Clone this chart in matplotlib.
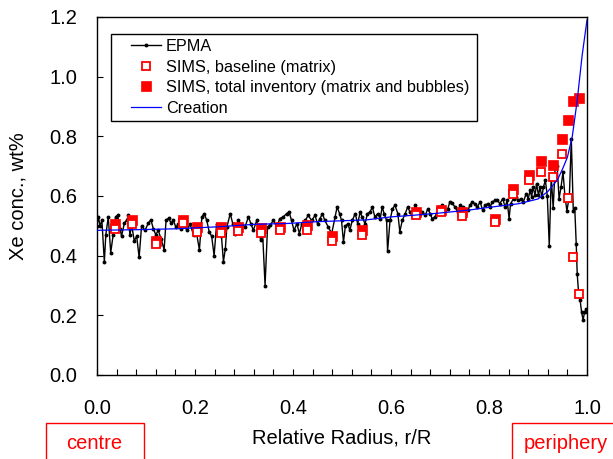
import matplotlib
matplotlib.use("Agg")
import matplotlib.pyplot as plt
from matplotlib.patches import Rectangle

plt.rcParams['font.family'] = ['Liberation Sans', 'DejaVu Sans']

# ---------------- data ----------------
epma_x = [0.000, 0.003, 0.006, 0.010, 0.015, 0.018, 0.023, 0.028, 0.033, 0.038, 0.042, 0.047, 0.050,
          0.056, 0.061, 0.064, 0.067, 0.071, 0.076, 0.081, 0.086, 0.091, 0.098, 0.105, 0.110, 0.115,
          0.120, 0.125, 0.131, 0.137, 0.141, 0.146, 0.151, 0.156, 0.161, 0.166, 0.171, 0.176, 0.183,
          0.190, 0.197, 0.201, 0.209, 0.214, 0.219, 0.224, 0.229, 0.234, 0.239, 0.244, 0.249, 0.254,
          0.258, 0.262, 0.265, 0.272, 0.277, 0.282, 0.288, 0.295, 0.302, 0.309, 0.314, 0.319, 0.326,
          0.334, 0.338, 0.343, 0.348, 0.353, 0.360, 0.367, 0.373, 0.380, 0.387, 0.392, 0.397, 0.402,
          0.408, 0.413, 0.418, 0.425, 0.431, 0.438, 0.445, 0.450, 0.455, 0.460, 0.465, 0.472, 0.479,
          0.486, 0.490, 0.495, 0.499, 0.503, 0.507, 0.512, 0.516, 0.521, 0.527, 0.532, 0.537, 0.541,
          0.547, 0.552, 0.557, 0.562, 0.567, 0.573, 0.578, 0.582, 0.586, 0.591, 0.593, 0.598, 0.603,
          0.608, 0.614, 0.618, 0.623, 0.629, 0.634, 0.639, 0.644, 0.649, 0.655, 0.659, 0.664, 0.670,
          0.675, 0.680, 0.684, 0.690, 0.695, 0.700, 0.705, 0.710, 0.716, 0.720, 0.725, 0.731, 0.736,
          0.741, 0.746, 0.751, 0.757, 0.761, 0.766, 0.771, 0.776, 0.782, 0.787, 0.792, 0.797, 0.802,
          0.807, 0.812, 0.817, 0.822, 0.828, 0.833, 0.837, 0.841, 0.844, 0.850, 0.855, 0.860, 0.865,
          0.870, 0.876, 0.880, 0.884, 0.887, 0.890, 0.894, 0.897, 0.901, 0.904, 0.908, 0.911, 0.915,
          0.919, 0.923, 0.927, 0.931, 0.935, 0.939, 0.943, 0.947, 0.951, 0.955, 0.959, 0.964, 0.968,
          0.972, 0.975, 0.978, 0.980, 0.983, 0.986, 0.989, 0.992, 0.995, 0.998]
epma_y = [0.500, 0.530, 0.500, 0.518, 0.380, 0.470, 0.530, 0.410, 0.470, 0.530, 0.535, 0.490, 0.465,
          0.510, 0.520, 0.535, 0.470, 0.500, 0.450, 0.465, 0.394, 0.500, 0.485, 0.510, 0.520, 0.490,
          0.470, 0.485, 0.455, 0.420, 0.520, 0.525, 0.510, 0.518, 0.495, 0.505, 0.490, 0.515, 0.485,
          0.505, 0.470, 0.495, 0.420, 0.530, 0.541, 0.518, 0.480, 0.465, 0.400, 0.505, 0.485, 0.465,
          0.380, 0.424, 0.496, 0.541, 0.507, 0.474, 0.518, 0.502, 0.496, 0.530, 0.507, 0.485, 0.518,
          0.452, 0.474, 0.300, 0.496, 0.502, 0.518, 0.496, 0.524, 0.530, 0.541, 0.547, 0.518, 0.485,
          0.507, 0.474, 0.507, 0.518, 0.535, 0.518, 0.535, 0.507, 0.524, 0.541, 0.518, 0.496, 0.474,
          0.530, 0.563, 0.541, 0.518, 0.446, 0.500, 0.507, 0.485, 0.518, 0.541, 0.507, 0.546, 0.530,
          0.507, 0.541, 0.546, 0.563, 0.530, 0.541, 0.524, 0.563, 0.541, 0.518, 0.415, 0.518, 0.557,
          0.569, 0.541, 0.480, 0.518, 0.541, 0.563, 0.546, 0.530, 0.569, 0.552, 0.541, 0.546, 0.535,
          0.557, 0.541, 0.524, 0.530, 0.552, 0.563, 0.569, 0.552, 0.557, 0.580, 0.575, 0.563, 0.546,
          0.569, 0.563, 0.541, 0.552, 0.569, 0.580, 0.574, 0.563, 0.580, 0.552, 0.569, 0.574, 0.563,
          0.580, 0.585, 0.588, 0.574, 0.591, 0.563, 0.585, 0.524, 0.574, 0.591, 0.597, 0.585, 0.591,
          0.580, 0.608, 0.591, 0.619, 0.597, 0.630, 0.602, 0.641, 0.602, 0.630, 0.597, 0.630, 0.652,
          0.600, 0.432, 0.663, 0.560, 0.697, 0.702, 0.591, 0.630, 0.680, 0.600, 0.550, 0.600, 0.790,
          0.550, 0.560, 0.440, 0.340, 0.270, 0.250, 0.210, 0.185, 0.210, 0.220]

sims_x = [0.037, 0.072, 0.120, 0.176, 0.205, 0.254, 0.287, 0.334, 0.374, 0.429, 0.480, 0.540,
          0.651, 0.702, 0.745, 0.812, 0.848, 0.882, 0.907, 0.930, 0.948, 0.962, 0.972, 0.983]
sims_total = [0.505, 0.518, 0.450, 0.518, 0.496, 0.496, 0.496, 0.494, 0.496, 0.502, 0.465, 0.487,
              0.548, 0.554, 0.546, 0.524, 0.624, 0.672, 0.717, 0.704, 0.790, 0.855, 0.917, 0.930]
sims_base = [0.490, 0.507, 0.440, 0.508, 0.480, 0.477, 0.483, 0.476, 0.485, 0.487, 0.448, 0.470,
             0.537, 0.545, 0.533, 0.513, 0.608, 0.652, 0.680, 0.663, 0.740, 0.594, 0.394, 0.271]

creation_x = [0.0, 0.08, 0.16, 0.25, 0.32, 0.39, 0.45, 0.50, 0.55, 0.60, 0.65, 0.70, 0.76, 0.80,
              0.86, 0.90, 0.92, 0.94, 0.95, 0.96, 0.97, 0.98, 0.99, 1.0]
creation_y = [0.485, 0.487, 0.490, 0.497, 0.505, 0.508, 0.514, 0.517, 0.520, 0.530, 0.536, 0.543,
              0.553, 0.562, 0.574, 0.590, 0.615, 0.655, 0.690, 0.730, 0.800, 0.920, 1.070, 1.190]

# ---------------- figure ----------------
W, H = 613, 459
fig = plt.figure(figsize=(W / 100, H / 100), dpi=100)
L, R, T, B = 97, 587, 17, 375
ax = fig.add_axes([L / W, 1 - B / H, (R - L) / W, (B - T) / H])

ax.plot(epma_x, epma_y, color='black', lw=1.0, marker='o', ms=1.8, mec='black',
        mfc='black', label='EPMA', zorder=2)
ax.plot(sims_x, sims_total, ls='none', marker='s', ms=6.8, mfc='#ff0000', mec='#ff0000',
        mew=0.5, label='SIMS, total inventory (matrix and bubbles)', zorder=3)
ax.plot(sims_x, sims_base, ls='none', marker='s', ms=5.3, mfc='white', mec='#ff0000',
        mew=1.3, label='SIMS, baseline (matrix)', zorder=4)
ax.plot(creation_x, creation_y, color='#0000ff', lw=0.9, label='Creation', zorder=5)

ax.set_xlim(0, 1.0)
ax.set_ylim(0, 1.2)
ax.set_xticks([0.0, 0.2, 0.4, 0.6, 0.8, 1.0])
ax.set_xticks([i * 0.04 for i in range(26)], minor=True)
ax.set_yticks([0.0, 0.2, 0.4, 0.6, 0.8, 1.0, 1.2])
ax.set_xticklabels(['0.0', '0.2', '0.4', '0.6', '0.8', '1.0'])
ax.set_yticklabels(['0.0', '0.2', '0.4', '0.6', '0.8', '1.0', '1.2'])
ax.tick_params(axis='x', which='major', direction='in', length=4, width=0.8, pad=17,
               labelsize=14.5, top=False)
ax.tick_params(axis='x', which='minor', direction='in', length=4, width=0.8, top=False)
ax.tick_params(axis='y', which='major', direction='in', length=4, width=0.8, pad=14,
               labelsize=14.5, right=False)
for s in ax.spines.values():
    s.set_linewidth(1.0)

ax.set_xlabel('Relative Radius, r/R', fontsize=14.5)
ax.xaxis.set_label_coords(0.499, (B - 428) / (B - T))
ax.set_ylabel('Xe conc., wt%', fontsize=14.5)
ax.yaxis.set_label_coords((28 - L) / (R - L), 0.5)

# legend (frame drawn separately)
h, lab = ax.get_legend_handles_labels()
order = [0, 2, 1, 3]
leg = ax.legend([h[i] for i in order], [lab[i] for i in order], loc='upper left',
                bbox_to_anchor=(131 / W, 1 - 39 / H), bbox_transform=fig.transFigure,
                frameon=False, fontsize=11.7, borderpad=0, borderaxespad=0,
                handlelength=1.85, handletextpad=0.3, labelspacing=0.34, numpoints=1)
leg.set_zorder(11)
ax.add_patch(Rectangle((111 / W, 1 - 121 / H), (477 - 111) / W, (121 - 34) / H,
                       transform=fig.transFigure, facecolor='white', edgecolor='black',
                       lw=1.0, zorder=10))

# centre / periphery boxes
fig.patches.append(Rectangle((45.7 / W, -0.05), 98.5 / W, 0.05 + (H - 423.3) / H,
                             transform=fig.transFigure, facecolor='white', edgecolor='#ff0000',
                             lw=1.0))
fig.patches.append(Rectangle((512.3 / W, -0.05), 110 / W, 0.05 + (H - 423.3) / H,
                             transform=fig.transFigure, facecolor='white', edgecolor='#ff0000',
                             lw=1.0))
fig.text(94.5 / W, 1 - 449.3 / H, 'centre', color='#ff0000', fontsize=14.5,
         ha='center', va='baseline')
fig.text(565.7 / W, 1 - 449.3 / H, 'periphery', color='#ff0000', fontsize=14.5,
         ha='center', va='baseline')

fig.savefig('out.png', dpi=100)
